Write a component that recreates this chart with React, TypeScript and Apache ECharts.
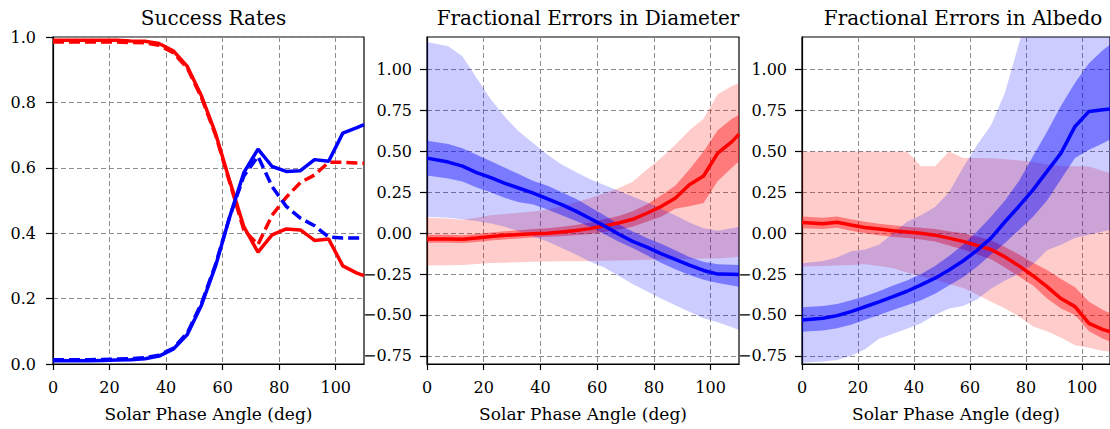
import React, { useEffect, useRef } from 'react';
import * as echarts from 'echarts';

// Solar phase angle sample points (deg)
const PHASE = [0, 7.5, 12.5, 17.5, 22.5, 27.5, 32.5, 37.5, 42.5, 47.5, 52.5, 57.5, 62.5, 67.5, 72.5, 77.5, 82.5, 87.5, 92.5, 97.5, 102.5, 107.5, 110];

const X_TICKS = [0, 20, 40, 60, 80, 100];
const Y_TICKS_ERR = [-0.75, -0.5, -0.25, 0, 0.25, 0.5, 0.75, 1.0];
const TITLES = ['Success Rates', 'Fractional Errors in Diameter', 'Fractional Errors in Albedo'];
const X_LABEL = 'Solar Phase Angle (deg)';

// Panel 1: success rates
const successRedSolid = [0.99, 0.99, 0.99, 0.99, 0.99, 0.988, 0.987, 0.98, 0.958, 0.91, 0.82, 0.705, 0.56, 0.42, 0.342, 0.395, 0.413, 0.41, 0.378, 0.382, 0.30, 0.278, 0.27];
const successRedDashed = [0.985, 0.985, 0.985, 0.985, 0.985, 0.983, 0.982, 0.975, 0.952, 0.905, 0.815, 0.70, 0.555, 0.41, 0.365, 0.455, 0.51, 0.555, 0.578, 0.617, 0.617, 0.615, 0.614];
const successBlueSolid = [0.01, 0.01, 0.01, 0.011, 0.012, 0.013, 0.016, 0.024, 0.045, 0.09, 0.18, 0.30, 0.45, 0.585, 0.657, 0.604, 0.589, 0.591, 0.625, 0.62, 0.706, 0.723, 0.732];
const successBlueDashed = [0.013, 0.013, 0.013, 0.014, 0.015, 0.016, 0.019, 0.027, 0.048, 0.095, 0.185, 0.305, 0.45, 0.575, 0.635, 0.543, 0.482, 0.446, 0.423, 0.388, 0.385, 0.385, 0.385];

// Panel 2: fractional errors in diameter
const diamBlueMed = [0.459, 0.435, 0.41, 0.37, 0.34, 0.305, 0.275, 0.245, 0.21, 0.175, 0.135, 0.09, 0.045, -0.005, -0.05, -0.085, -0.125, -0.16, -0.195, -0.228, -0.25, -0.251, -0.252];
const diamBlueInHi = [0.565, 0.545, 0.52, 0.48, 0.44, 0.40, 0.36, 0.32, 0.29, 0.25, 0.21, 0.16, 0.11, 0.055, 0.01, -0.03, -0.065, -0.105, -0.145, -0.175, -0.19, -0.193, -0.195];
const diamBlueInLo = [0.353, 0.335, 0.316, 0.28, 0.25, 0.215, 0.19, 0.175, 0.145, 0.11, 0.075, 0.04, -0.005, -0.05, -0.09, -0.135, -0.18, -0.22, -0.255, -0.285, -0.305, -0.32, -0.327];
const diamBlueOutHi = [1.17, 1.143, 1.082, 0.95, 0.82, 0.71, 0.62, 0.55, 0.48, 0.42, 0.375, 0.33, 0.295, 0.26, 0.225, 0.19, 0.15, 0.11, 0.065, 0.03, 0.015, 0.03, 0.04];
const diamBlueOutLo = [0.10, 0.095, 0.085, 0.075, 0.06, 0.04, 0.01, -0.02, -0.05, -0.09, -0.13, -0.175, -0.21, -0.26, -0.31, -0.355, -0.40, -0.44, -0.48, -0.52, -0.545, -0.575, -0.592];
const diamRedMed = [-0.035, -0.035, -0.037, -0.03, -0.02, -0.013, -0.008, -0.003, 0.0, 0.008, 0.016, 0.028, 0.045, 0.062, 0.085, 0.122, 0.163, 0.214, 0.296, 0.35, 0.49, 0.56, 0.605];
const diamRedInHi = [-0.01, -0.01, -0.012, -0.005, 0.005, 0.012, 0.018, 0.025, 0.03, 0.04, 0.05, 0.065, 0.085, 0.105, 0.135, 0.175, 0.23, 0.29, 0.39, 0.50, 0.63, 0.70, 0.724];
const diamRedInLo = [-0.058, -0.058, -0.06, -0.054, -0.045, -0.038, -0.032, -0.027, -0.022, -0.018, -0.012, -0.005, 0.008, 0.022, 0.04, 0.07, 0.1, 0.15, 0.165, 0.185, 0.32, 0.40, 0.44];
const diamRedOutHi = [0.095, 0.09, 0.082, 0.095, 0.11, 0.118, 0.125, 0.133, 0.145, 0.165, 0.19, 0.215, 0.245, 0.275, 0.315, 0.39, 0.46, 0.54, 0.63, 0.70, 0.85, 0.9, 0.918];
const diamRedOutLo = [-0.198, -0.196, -0.195, -0.188, -0.183, -0.18, -0.177, -0.175, -0.173, -0.172, -0.172, -0.17, -0.168, -0.167, -0.165, -0.163, -0.162, -0.16, -0.158, -0.155, -0.155, -0.148, -0.143];

// Panel 3: fractional errors in albedo
const albBlueMed = [-0.531, -0.52, -0.504, -0.48, -0.45, -0.42, -0.388, -0.355, -0.316, -0.275, -0.225, -0.17, -0.105, -0.03, 0.07, 0.165, 0.265, 0.378, 0.49, 0.653, 0.745, 0.755, 0.759];
const albBlueInHi = [-0.453, -0.445, -0.433, -0.41, -0.385, -0.355, -0.32, -0.29, -0.25, -0.2, -0.14, -0.07, 0.01, 0.1, 0.2, 0.32, 0.47, 0.62, 0.78, 0.92, 1.04, 1.12, 1.153];
const albBlueInLo = [-0.602, -0.595, -0.582, -0.56, -0.53, -0.5, -0.47, -0.44, -0.41, -0.37, -0.32, -0.27, -0.205, -0.13, -0.06, 0.02, 0.1, 0.2, 0.33, 0.46, 0.51, 0.55, 0.571];
const albBlueOutHi = [-0.184, -0.17, -0.149, -0.11, -0.1, -0.07, 0.0, 0.07, 0.11, 0.16, 0.25, 0.40, 0.54, 0.66, 0.86, 1.16, 1.45, 1.7, 1.9, 2.0, 2.1, 2.2, 2.2];
const albBlueOutLo = [-0.792, -0.785, -0.776, -0.75, -0.71, -0.645, -0.615, -0.585, -0.55, -0.5, -0.46, -0.445, -0.405, -0.34, -0.29, -0.25, -0.19, -0.105, -0.07, -0.03, -0.01, 0.01, 0.02];
const albRedMed = [0.065, 0.058, 0.067, 0.05, 0.035, 0.025, 0.015, 0.008, 0.0, -0.012, -0.03, -0.05, -0.075, -0.1, -0.145, -0.2, -0.26, -0.327, -0.4, -0.449, -0.551, -0.59, -0.602];
const albRedInHi = [0.102, 0.095, 0.102, 0.085, 0.07, 0.058, 0.048, 0.04, 0.033, 0.025, 0.012, 0.0, -0.02, -0.045, -0.085, -0.13, -0.18, -0.225, -0.28, -0.33, -0.42, -0.47, -0.49];
const albRedInLo = [0.031, 0.025, 0.033, 0.015, 0.0, -0.012, -0.022, -0.03, -0.038, -0.05, -0.075, -0.1, -0.13, -0.16, -0.21, -0.265, -0.32, -0.4, -0.46, -0.5, -0.6, -0.645, -0.663];
const albRedOutHi = [0.5, 0.5, 0.5, 0.5, 0.5, 0.5, 0.5, 0.5, 0.41, 0.41, 0.5, 0.46, 0.46, 0.458, 0.453, 0.445, 0.435, 0.42, 0.41, 0.41, 0.408, 0.38, 0.367];
const albRedOutLo = [-0.204, -0.2, -0.197, -0.195, -0.19, -0.2, -0.215, -0.24, -0.265, -0.285, -0.31, -0.335, -0.375, -0.42, -0.46, -0.51, -0.57, -0.6, -0.64, -0.685, -0.70, -0.72, -0.724];

const FONT = 'DejaVu Serif';
const RED = '#ff0000';
const BLUE = '#0000ff';
const RED_LIGHT = 'rgba(255,0,0,0.2)';
const RED_DARK = 'rgba(255,0,0,0.4)';
const BLUE_LIGHT = 'rgba(0,0,255,0.2)';
const BLUE_DARK = 'rgba(0,0,255,0.4)';

const pairs = (ys: number[]) => PHASE.map((x, i) => [x, ys[i]]);

function band(idx: number, lo: number[], hi: number[], fill: string) {
  return {
    type: 'custom',
    xAxisIndex: idx,
    yAxisIndex: idx,
    data: PHASE.map((x, i) => [x, lo[i], hi[i]]),
    encode: { x: 0, y: [1, 2] },
    clip: true,
    silent: true,
    renderItem: (params: any, api: any) => {
      if (params.dataIndex !== 0) return null;
      const pts: number[][] = [];
      for (let i = 0; i < PHASE.length; i++) pts.push(api.coord([PHASE[i], hi[i]]));
      for (let i = PHASE.length - 1; i >= 0; i--) pts.push(api.coord([PHASE[i], lo[i]]));
      return { type: 'polygon', shape: { points: pts }, style: { fill, stroke: null } };
    },
  };
}

function line(idx: number, ys: number[], color: string, dashed = false) {
  return {
    type: 'line',
    xAxisIndex: idx,
    yAxisIndex: idx,
    data: pairs(ys),
    symbol: 'none',
    showSymbol: false,
    silent: true,
    clip: true,
    lineStyle: { color, width: 3.5, type: dashed ? [11, 5] : 'solid' },
  };
}

const GRIDS = [
  { left: 53, top: 37, width: 311, height: 327 },
  { left: 427, top: 37, width: 312, height: 327 },
  { left: 802, top: 37, width: 312, height: 327 },
];

const axisLineStyle = { color: '#000', width: 1.2 };
const splitLineStyle = { color: '#8c8c8c', width: 1, type: [5, 3] };

function xAxis(idx: number) {
  return {
    type: 'value',
    gridIndex: idx,
    min: 0,
    max: 110,
    interval: 20,
    name: X_LABEL,
    nameLocation: 'middle',
    nameGap: 41,
    nameTextStyle: { fontFamily: FONT, fontSize: 17, color: '#000' },
    axisLine: { show: true, onZero: false, lineStyle: axisLineStyle },
    axisTick: { show: true, length: 6, lineStyle: axisLineStyle, customValues: X_TICKS },
    axisLabel: { fontFamily: FONT, fontSize: 16, color: '#000', margin: 15, customValues: X_TICKS },
    splitLine: { show: true, lineStyle: splitLineStyle },
  };
}

function yAxisErr(idx: number) {
  return {
    type: 'value',
    gridIndex: idx,
    min: -0.8,
    max: 1.2,
    axisLine: { show: true, onZero: false, lineStyle: axisLineStyle },
    axisTick: { show: true, length: 7, lineStyle: axisLineStyle, customValues: Y_TICKS_ERR },
    axisLabel: {
      fontFamily: FONT,
      fontSize: 16,
      color: '#000',
      margin: 15,
      customValues: Y_TICKS_ERR,
      formatter: (v: number) => (v < 0 ? '\u2212' : '') + Math.abs(v).toFixed(2),
    },
    splitLine: { show: true, lineStyle: splitLineStyle },
  };
}

const option = {
  animation: false,
  backgroundColor: '#fff',
  title: TITLES.map((t, i) => ({
    text: t,
    left: GRIDS[i].left + GRIDS[i].width / 2,
    top: 3,
    textAlign: 'center',
    textStyle: { fontFamily: FONT, fontSize: 20, fontWeight: 'normal', color: '#000' },
  })),
  grid: GRIDS.map((g) => ({ ...g, show: true, borderColor: '#000', borderWidth: 1.2, backgroundColor: 'transparent' })),
  xAxis: [xAxis(0), xAxis(1), xAxis(2)],
  yAxis: [
    {
      type: 'value',
      gridIndex: 0,
      min: 0,
      max: 1,
      interval: 0.2,
      axisLine: { show: true, onZero: false, lineStyle: axisLineStyle },
      axisTick: { show: true, length: 7, lineStyle: axisLineStyle },
      axisLabel: { fontFamily: FONT, fontSize: 16, color: '#000', margin: 17, formatter: (v: number) => v.toFixed(1) },
      splitLine: { show: true, lineStyle: splitLineStyle },
    },
    yAxisErr(1),
    yAxisErr(2),
  ],
  series: [
    line(0, successRedSolid, RED),
    line(0, successRedDashed, RED, true),
    line(0, successBlueSolid, BLUE),
    line(0, successBlueDashed, BLUE, true),

    band(1, diamRedOutLo, diamRedOutHi, RED_LIGHT),
    band(1, diamRedInLo, diamRedInHi, RED_DARK),
    line(1, diamRedMed, RED),
    band(1, diamBlueOutLo, diamBlueOutHi, BLUE_LIGHT),
    band(1, diamBlueInLo, diamBlueInHi, BLUE_DARK),
    line(1, diamBlueMed, BLUE),

    band(2, albRedOutLo, albRedOutHi, RED_LIGHT),
    band(2, albRedInLo, albRedInHi, RED_DARK),
    line(2, albRedMed, RED),
    band(2, albBlueOutLo, albBlueOutHi, BLUE_LIGHT),
    band(2, albBlueInLo, albBlueInHi, BLUE_DARK),
    line(2, albBlueMed, BLUE),
  ],
};

export default function App() {
  const ref = useRef<HTMLDivElement>(null);
  useEffect(() => {
    if (!ref.current) return;
    const chart = echarts.init(ref.current, null, { renderer: 'svg' });
    chart.setOption(option as any);
    return () => chart.dispose();
  }, []);
  return <div ref={ref} style={{ position: 'fixed', left: 0, top: 0, width: 1110, height: 429 }} />;
}
